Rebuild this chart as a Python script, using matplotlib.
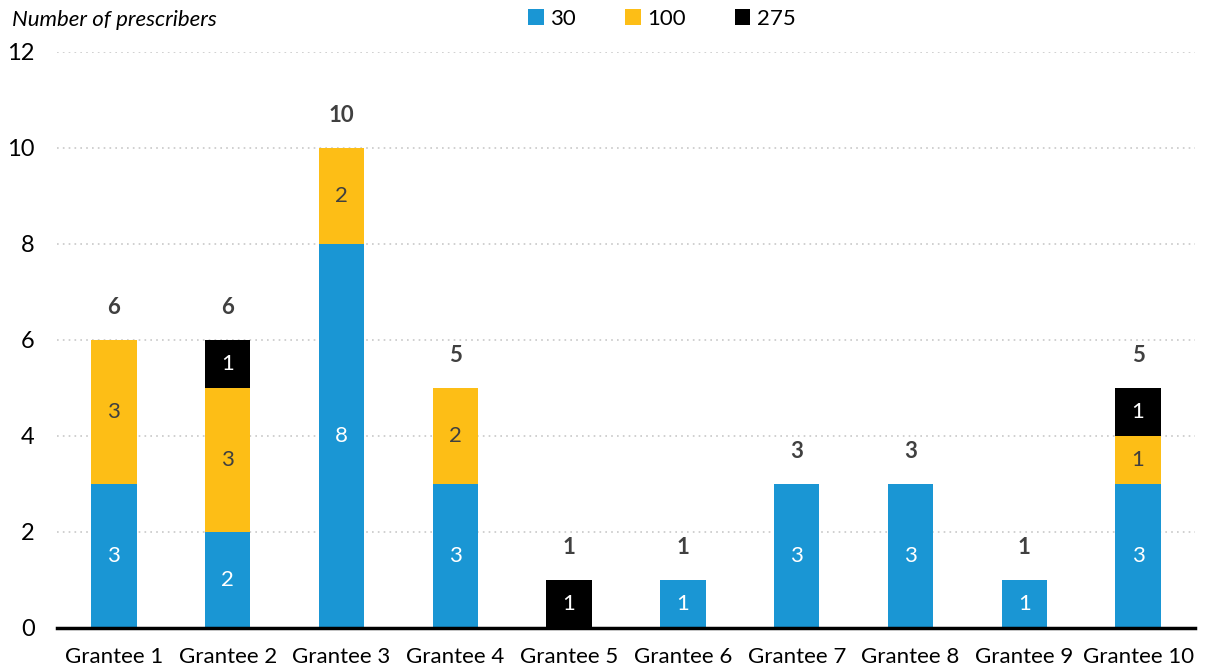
import matplotlib
matplotlib.use("Agg")
import matplotlib.pyplot as plt
import numpy as np

plt.rcParams['font.family'] = ['Lato', 'DejaVu Sans']

categories = ["Grantee 1", "Grantee 2", "Grantee 3", "Grantee 4", "Grantee 5",
              "Grantee 6", "Grantee 7", "Grantee 8", "Grantee 9", "Grantee 10"]
series_names = ["30", "100", "275"]
s30 = [3, 2, 8, 3, 0, 1, 3, 3, 1, 3]
s100 = [3, 3, 2, 2, 0, 0, 0, 0, 0, 1]
s275 = [0, 1, 0, 0, 1, 0, 0, 0, 0, 1]
yticks = [0, 2, 4, 6, 8, 10, 12]

colors = ["#1A96D4", "#FDBE16", "#000000"]
label_colors = ["white", "#404040", "white"]

fig = plt.figure(figsize=(12.05, 6.72), dpi=100)
ax = fig.add_axes([57/1205, 1-628/672, (1195-57)/1205, (628-52)/672])

x = np.arange(len(categories))
bottom = np.zeros(len(categories))
for vals, col, lc, name in zip([s30, s100, s275], colors, label_colors, series_names):
    vals = np.array(vals, dtype=float)
    ax.bar(x, vals, 0.4, bottom=bottom, color=col, label=name, zorder=3)
    for xi, v, b in zip(x, vals, bottom):
        if v > 0:
            ax.text(xi, b + v/2, f"{int(v)}", ha='center', va='center',
                    color=lc, fontsize=16, zorder=4)
    bottom += vals

for xi, t in zip(x, bottom):
    ax.text(xi, t + 0.68, f"{int(t)}", ha='center', va='center', color='#404040',
            fontsize=16, fontweight='bold')

ax.set_xlim(-0.5, 9.5)
ax.set_ylim(0, 12)
ax.set_yticks(yticks)
ax.set_yticklabels([str(t) for t in yticks], fontsize=17)
ax.set_xticks(x)
ax.set_xticklabels(categories, fontsize=16)
ax.tick_params(axis='both', length=0, colors='black')
ax.tick_params(axis='y', pad=16)
ax.tick_params(axis='x', pad=14)
for s in ['top', 'right', 'left']:
    ax.spines[s].set_visible(False)
ax.spines['bottom'].set_linewidth(2.5)
ax.spines['bottom'].set_color('black')
ax.spines['bottom'].set_zorder(5)
ax.yaxis.grid(True, linestyle=(0, (1, 2.5)), color='#C8C8C8', linewidth=1.2, zorder=0)
ax.set_axisbelow(True)

fig.text(12/1205, 1-20/672, "Number of prescribers", fontsize=16, style='italic',
         ha='left', va='center')

fig.legend(loc='center', bbox_to_anchor=(662/1205, 1-19/672), ncol=3, frameon=False,
           fontsize=16, handlelength=0.7, handleheight=0.7, handletextpad=0.3,
           columnspacing=2.2)

fig.savefig("out.png", dpi=100)
